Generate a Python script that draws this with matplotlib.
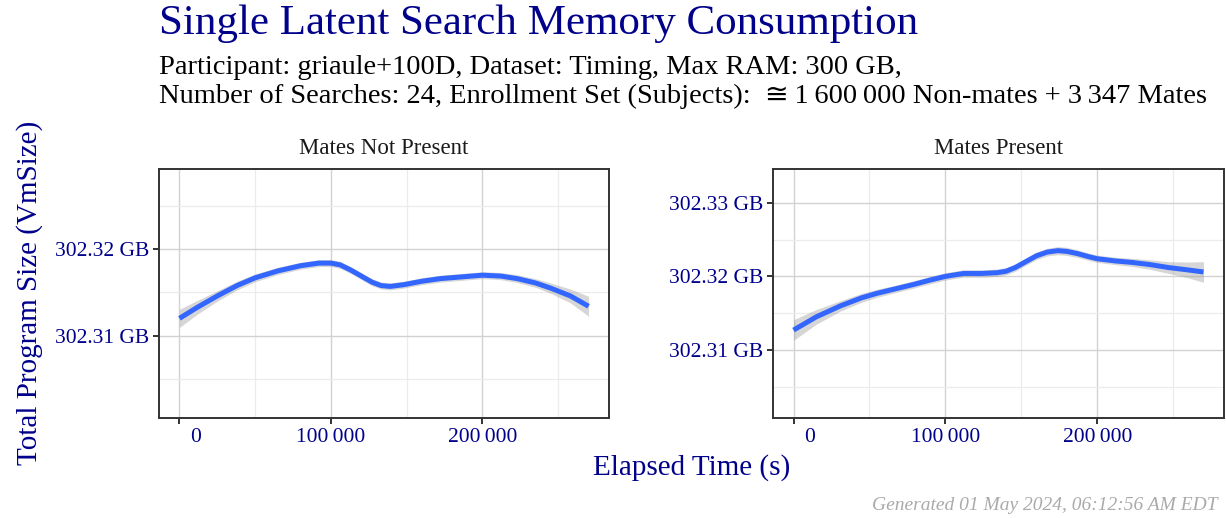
import matplotlib
matplotlib.use("Agg")
import matplotlib.pyplot as plt
from matplotlib.ticker import FixedLocator
from matplotlib.transforms import ScaledTranslation

plt.rcParams["font.family"] = ["Liberation Serif", "DejaVu Serif", "DejaVu Sans"]

# smoothed fits (elapsed seconds, GB)
t_absent = [0, 12000, 25000, 38000, 50000, 65000, 80000, 92000, 100000, 106000, 113000,
            120000, 127000, 133000, 139000, 148000, 160000, 172000, 186000, 200000,
            212000, 223000, 235000, 245000, 258000, 270000]
vm_absent = [302.3120, 302.3133, 302.3146, 302.3158, 302.3167, 302.3175, 302.3181,
             302.3184, 302.3184, 302.3182, 302.3176, 302.3169, 302.3162, 302.3158,
             302.3157, 302.3159, 302.3163, 302.3166, 302.3168, 302.3170, 302.3169,
             302.3166, 302.3161, 302.3155, 302.3146, 302.3134]
se_absent = [0.00105, 0.00080, 0.00060, 0.00050, 0.00045, 0.00042, 0.00040, 0.00040,
             0.00040, 0.00040, 0.00040, 0.00040, 0.00040, 0.00040, 0.00040, 0.00040,
             0.00040, 0.00040, 0.00040, 0.00040, 0.00042, 0.00045, 0.00050, 0.00060,
             0.00080, 0.00115]

t_present = [0, 15000, 31000, 45000, 55000, 67000, 79000, 90000, 100000, 112000,
             124000, 134000, 140000, 146000, 153000, 160000, 167000, 174000, 180000,
             187000, 194000, 200000, 212000, 223000, 235000, 247000, 259000, 270000]
vm_present = [302.3127, 302.3145, 302.3160, 302.3171, 302.3177, 302.3183, 302.3189,
              302.3195, 302.3200, 302.3204, 302.3204, 302.3205, 302.3207, 302.3212,
              302.3220, 302.3228, 302.3233, 302.3235, 302.3234, 302.3231, 302.3227,
              302.3224, 302.3221, 302.3219, 302.3216, 302.3212, 302.3209, 302.3206]
se_present = [0.00140, 0.00100, 0.00070, 0.00060, 0.00055, 0.00050, 0.00050, 0.00050,
              0.00050, 0.00050, 0.00050, 0.00050, 0.00050, 0.00050, 0.00050, 0.00050,
              0.00052, 0.00055, 0.00055, 0.00052, 0.00050, 0.00050, 0.00050, 0.00055,
              0.00065, 0.00080, 0.00105, 0.00140]

x_ticks = [0, 100000, 200000]
x_minor = [50000, 150000, 250000]
x_labels = ["0", "100\u2009000", "200\u2009000"]
y_ticks_absent = [302.31, 302.32]
y_ticks_present = [302.31, 302.32, 302.33]
y_minor = [302.305, 302.315, 302.325]

W, H = 1226, 518
navy = "#00008B"
fig = plt.figure(figsize=(W / 100, H / 100), dpi=100)


def px_axes(x0, y0, x1, y1):
    return fig.add_axes([x0 / W, 1 - y1 / H, (x1 - x0) / W, (y1 - y0) / H])


panels = [
    (px_axes(159, 169, 609, 418), "Mates Not Present", t_absent, vm_absent, se_absent,
     y_ticks_absent, (302.30046, 302.3293)),
    (px_axes(773, 169, 1224, 418), "Mates Present", t_present, vm_present, se_present,
     y_ticks_present, (302.30075, 302.3346)),
]

for ax, name, t, v, se, yt, ylim in panels:
    lo = [a - b for a, b in zip(v, se)]
    hi = [a + b for a, b in zip(v, se)]
    ax.fill_between(t, lo, hi, color="#999999", alpha=0.4, lw=0, zorder=2)
    ax.plot(t, v, color="#3366FF", lw=3.6, solid_capstyle="butt",
            solid_joinstyle="round", zorder=3)
    ax.set_xlim(-13500, 283500)
    ax.set_ylim(*ylim)
    ax.xaxis.set_major_locator(FixedLocator(x_ticks))
    ax.xaxis.set_minor_locator(FixedLocator(x_minor))
    ax.yaxis.set_major_locator(FixedLocator(yt))
    ax.yaxis.set_minor_locator(FixedLocator(y_minor))
    ax.set_xticklabels(x_labels)
    ax.set_yticklabels(["%.2f GB" % y for y in yt])
    ax.grid(which="major", color="#d2d2d2", lw=1.0, zorder=0)
    ax.grid(which="minor", color="#ececec", lw=0.9, zorder=0)
    ax.set_axisbelow(True)
    ax.tick_params(which="major", length=4, width=1.4, color="#333333",
                   labelsize=15.5, labelcolor=navy, pad=3)
    ax.tick_params(which="minor", length=0)
    # the reference draws the "0" label nudged to the right of its tick
    lab0 = ax.get_xticklabels()[0]
    lab0.set_transform(lab0.get_transform() + ScaledTranslation(0.16, 0, fig.dpi_scale_trans))
    for s in ax.spines.values():
        s.set_color("#333333")
        s.set_linewidth(1.4)
    ax.text(0.5, 1 + 21 / 249, name, transform=ax.transAxes, fontsize=16.5,
            color="#1a1a1a", ha="center", va="center")

fig.text(159 / W, 1 - 24 / H, "Single Latent Search Memory Consumption",
         fontsize=31, color=navy, va="center", ha="left")
fig.text(159 / W, 1 - 68 / H,
         "Participant: griaule+100D, Dataset: Timing, Max RAM: 300 GB,",
         fontsize=20.5, color="black", va="center", ha="left")
fig.text(159 / W, 1 - 96 / H,
         "Number of Searches: 24, Enrollment Set (Subjects):  \u2245\u20091\u2009600\u2009000 Non-mates + 3\u2009347 Mates",
         fontsize=20.5, color="black", va="center", ha="left")
fig.text(30 / W, 1 - 293 / H, "Total Program Size (VmSize)", rotation=90,
         fontsize=21, color=navy, va="center", ha="center")
fig.text(692 / W, 1 - 468 / H, "Elapsed Time (s)",
         fontsize=21, color=navy, va="center", ha="center")
fig.text(1218 / W, 1 - 506 / H, "Generated 01 May 2024, 06:12:56 AM EDT",
         fontsize=14, color="#aaaaaa", style="italic", va="center", ha="right")

fig.savefig("out.png", dpi=100)
